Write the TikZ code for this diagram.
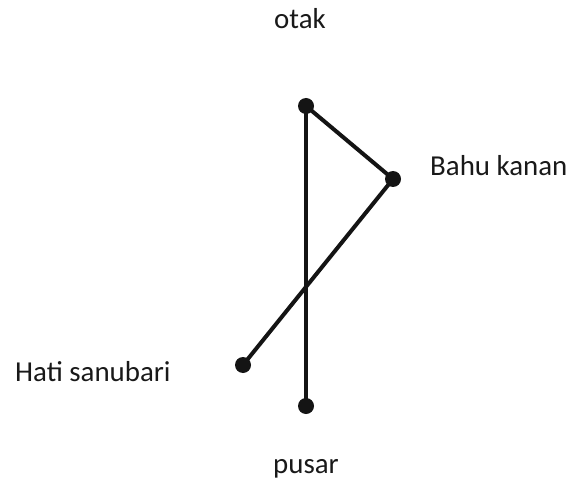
\documentclass[tikz,border=0pt]{standalone}
\usepackage{fontspec}
\setmainfont{Carlito}
\definecolor{lineBlack}{RGB}{20,20,20}
\definecolor{textGray}{RGB}{25,25,25}

\begin{document}
\begin{tikzpicture}[
  x=1bp, y=-1bp,
  font=\fontsize{29}{34}\selectfont,
  dot/.style={circle, fill=lineBlack, inner sep=0pt, minimum size=16bp},
  lbl/.style={text=textGray, inner sep=0pt},
  link/.style={draw=lineBlack, line width=4bp}
]
\useasboundingbox (0,0) rectangle (569,480);

\node[dot] (otakpt)  at (306,106) {};
\node[dot] (bahupt)  at (393,179) {};
\node[dot] (hatipt)  at (243,365) {};
\node[dot] (pusarpt) at (306,406) {};

\node[lbl, anchor=base] (otak) at (300,29) {otak};
\node[lbl, anchor=base west] (bahu) at (430,176) {Bahu kanan};
\node[lbl, anchor=base west] (hati) at (15,381) {Hati sanubari};
\node[lbl, anchor=base] (pusar) at (306,473) {pusar};

\draw[link] (otakpt.center) -- (bahupt.center);
\draw[link] (otakpt.center) -- (pusarpt.center);
\draw[link] (bahupt.center) -- (hatipt.center);
\end{tikzpicture}
\end{document}
